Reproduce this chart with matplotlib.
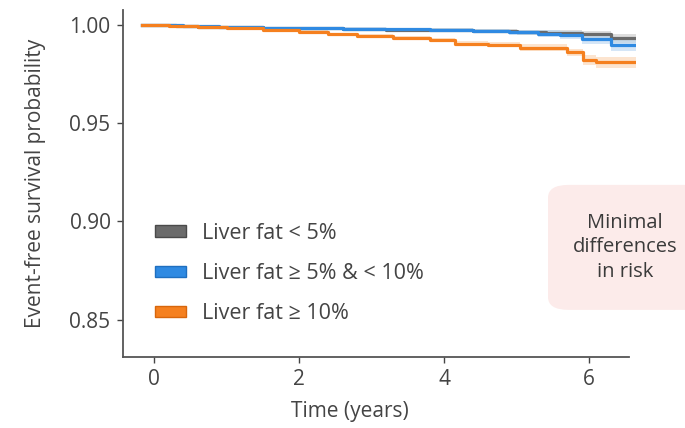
import numpy as np
import matplotlib
matplotlib.use('Agg')
from matplotlib import pyplot as plt
from matplotlib.patches import Patch, FancyBboxPatch

plt.rcParams['font.family'] = ['Open Sans', 'DejaVu Sans']

# step curves (time in years, survival)
t_low = [-0.17, 0.3, 0.6, 1.0, 1.5, 2.0, 2.6, 3.2, 3.8, 4.4, 5.0, 5.4, 5.9, 6.3, 6.65]
s_low = [1.000, 0.9995, 0.9992, 0.9989, 0.9986, 0.9983, 0.9979, 0.9975, 0.9972, 0.9968, 0.9963, 0.9958, 0.9952, 0.9932, 0.9932]
ci_low = [0.0, 0.0003, 0.0004, 0.0005, 0.0006, 0.0007, 0.0008, 0.0009, 0.0010, 0.0011, 0.0013, 0.0015, 0.0018, 0.0023, 0.0023]

t_mid = [-0.17, 0.4, 0.9, 1.5, 2.0, 2.6, 3.2, 3.8, 4.4, 4.9, 5.3, 5.6, 5.9, 6.3, 6.65]
s_mid = [1.000, 0.9994, 0.9991, 0.9987, 0.9984, 0.9981, 0.9978, 0.9975, 0.9969, 0.9962, 0.9955, 0.9948, 0.9930, 0.9900, 0.9900]
ci_mid = [0.0, 0.0003, 0.0004, 0.0005, 0.0006, 0.0007, 0.0008, 0.0009, 0.0011, 0.0014, 0.0017, 0.0020, 0.0026, 0.0034, 0.0034]

t_high = [-0.17, 0.2, 0.6, 1.0, 1.5, 2.0, 2.4, 2.8, 3.3, 3.8, 4.15, 4.6, 5.05, 5.7, 5.92, 6.1, 6.65]
s_high = [1.000, 0.9995, 0.9990, 0.9982, 0.9975, 0.9965, 0.9952, 0.9946, 0.9936, 0.9925, 0.9905, 0.9900, 0.9885, 0.9860, 0.9822, 0.9810, 0.9810]
ci_high = [0.0, 0.0003, 0.0004, 0.0005, 0.0006, 0.0007, 0.0008, 0.0009, 0.0010, 0.0011, 0.0012, 0.0014, 0.0016, 0.0020, 0.0025, 0.0029, 0.0029]

labels = ['Liver fat < 5%', 'Liver fat \u2265 5% & < 10%', 'Liver fat \u2265 10%']
colors = ['#6b6b6b', '#2f8ae2', '#f5801f']
edges = ['#4a4a4a', '#1f6fbf', '#d7660c']
bands = ['#c9c9c9', '#b9d6f2', '#fbd3b0']

fig = plt.figure(figsize=(6.85, 4.28), dpi=100)
ax = fig.add_axes([0.1796, 0.1659, 0.749, 0.8107])

series = [(t_low, s_low, ci_low), (t_mid, s_mid, ci_mid), (t_high, s_high, ci_high)]
for (t, s, ci), col, band in zip(series, colors, bands):
    t = np.array(t)
    s = np.array(s)
    ci = np.array(ci)
    ax.fill_between(t, s - ci, s + ci, step='post', color=band, alpha=0.6, lw=0)
    ax.step(t, s, where='post', color=col, lw=2.3)

ax.set_xlim(-0.43, 6.65)
ax.set_ylim(0.831, 1.0076)
ax.set_xticks([0, 2, 4, 6])
ax.set_yticks([0.85, 0.90, 0.95, 1.00])
ax.set_yticklabels(['0.85', '0.90', '0.95', '1.00'])
for side in ['top', 'right']:
    ax.spines[side].set_visible(False)
for side in ['left', 'bottom']:
    ax.spines[side].set_color('#555555')
    ax.spines[side].set_linewidth(1.3)
ax.spines['bottom'].set_bounds(-0.43, 6.55)
ax.tick_params(colors='#444444', labelsize=15, length=4, width=1, pad=5)
ax.set_xlabel('Time (years)', fontsize=15, color='#444444')
ax.xaxis.set_label_coords(0.443, -0.128)
ax.set_ylabel('Event-free survival probability', fontsize=15, color='#444444', labelpad=17)

handles = [Patch(facecolor=c, edgecolor=e, lw=1) for c, e in zip(colors, edges)]
leg = ax.legend(handles, labels, loc='upper left', bbox_to_anchor=(0.062, 0.387),
                frameon=False, fontsize=15.5, handlelength=1.45, handleheight=0.42,
                handletextpad=0.72, labelspacing=0.9, borderaxespad=0, borderpad=0)
for txt in leg.get_texts():
    txt.set_color('#444444')

box = FancyBboxPatch((0.80, 0.276), 0.25, 0.292, transform=fig.transFigure,
                     boxstyle='round,pad=0,rounding_size=0.03',
                     facecolor='#fcebea', edgecolor='none', zorder=0)
fig.patches.append(box)
fig.text(0.912, 0.422, 'Minimal\ndifferences\nin risk', ha='center', va='center',
         fontsize=14.5, color='#3a3a3a', linespacing=1.3)

plt.savefig('out.png', dpi=100)
